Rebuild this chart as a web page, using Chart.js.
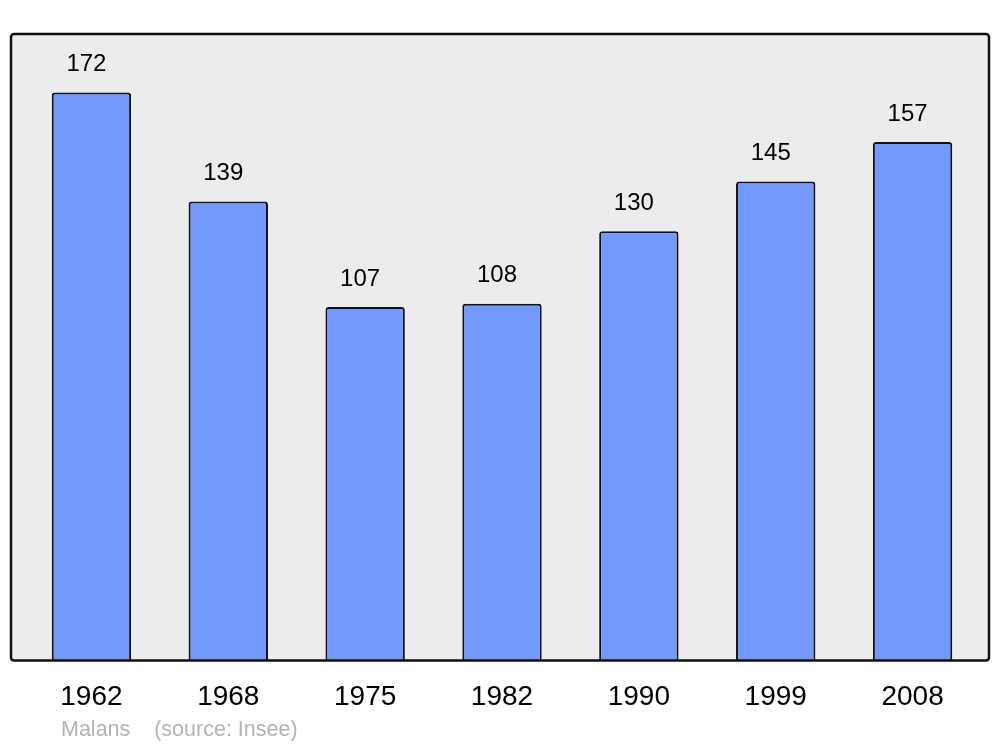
<!DOCTYPE html>
<html>
<head>
<meta charset="utf-8">
<script src="https://cdn.jsdelivr.net/npm/chart.js@4/dist/chart.umd.min.js"></script>
<style>
  html, body { margin: 0; padding: 0; background: #fff; }
  #wrap { width: 1000px; height: 747px; }
</style>
</head>
<body>
<div id="wrap"><canvas id="popChart" width="1000" height="747"></canvas></div>
<script>
const years = ['1962', '1968', '1975', '1982', '1990', '1999', '2008'];
const population = [172, 139, 107, 108, 130, 145, 157];
const footerText = 'Malans    (source: Insee)';

// cadre gris derrière les barres + bordure noire
const framePlugin = {
    id: 'frame',
    beforeDatasetsDraw(chart) {
        const { ctx, chartArea } = chart;
        const x = 11, y = chartArea.top, w = 978, h = chartArea.bottom - chartArea.top;
        ctx.save();
        ctx.beginPath();
        ctx.roundRect(x, y, w, h, 3);
        ctx.fillStyle = '#ececec';
        ctx.fill();
        ctx.restore();
    },
    afterDatasetsDraw(chart) {
        const { ctx, chartArea } = chart;
        const x = 11, y = chartArea.top, w = 978, h = chartArea.bottom - chartArea.top;
        ctx.save();
        ctx.beginPath();
        ctx.roundRect(x, y, w, h, 3);
        ctx.lineWidth = 2.5;
        ctx.strokeStyle = '#111';
        ctx.stroke();

        // valeurs au-dessus des barres
        const meta = chart.getDatasetMeta(0);
        ctx.fillStyle = '#000';
        ctx.font = '24px "Liberation Sans", Arial, sans-serif';
        ctx.textAlign = 'center';
        ctx.textBaseline = 'middle';
        meta.data.forEach((bar, i) => {
            ctx.fillText(String(population[i]), bar.x - 5, bar.y - 28);
        });

        // source
        ctx.fillStyle = '#b3b3b3';
        ctx.font = '21.5px "Liberation Sans", Arial, sans-serif';
        ctx.textAlign = 'left';
        ctx.fillText(footerText, 61, 730);
        ctx.restore();
    }
};

new Chart(document.getElementById('popChart').getContext('2d'), {
    type: 'bar',
    data: {
        labels: years,
        datasets: [{
            data: population,
            backgroundColor: '#7399ff',
            borderColor: '#111',
            borderWidth: 2,
            borderSkipped: 'bottom',
            borderRadius: 3,
            categoryPercentage: 0.58,
            barPercentage: 1
        }]
    },
    options: {
        responsive: false,
        animation: false,
        layout: { padding: { left: 23, right: 19, top: 34, bottom: 21 } },
        plugins: { legend: { display: false }, tooltip: { enabled: false } },
        scales: {
            x: {
                grid: { display: false },
                border: { display: false },
                ticks: {
                    color: '#000',
                    padding: 12,
                    font: { family: '"Liberation Sans", Arial, sans-serif', size: 28 }
                }
            },
            y: {
                display: false,
                min: 0,
                max: 189.7
            }
        }
    },
    plugins: [framePlugin]
});
</script>
</body>
</html>
